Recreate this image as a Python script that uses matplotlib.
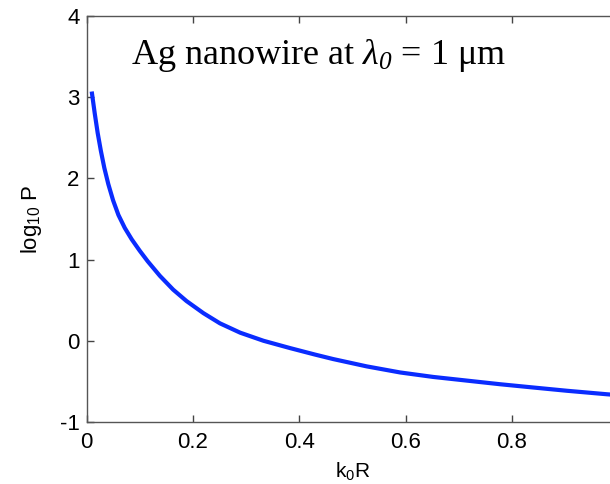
import matplotlib
matplotlib.use("Agg")
import matplotlib.pyplot as plt

# data
k0R = [0.0098, 0.0155, 0.021, 0.027, 0.0335, 0.041, 0.050, 0.060, 0.072, 0.085,
       0.100, 0.115, 0.138, 0.163, 0.188, 0.22, 0.251, 0.289, 0.333, 0.383,
       0.43, 0.464, 0.527, 0.59, 0.652, 0.715, 0.778, 0.84, 0.903, 0.978, 0.995]
log10P = [3.07, 2.80, 2.56, 2.34, 2.13, 1.93, 1.73, 1.55, 1.39, 1.25,
          1.11, 0.98, 0.80, 0.63, 0.49, 0.34, 0.215, 0.10, 0.0, -0.09,
          -0.17, -0.225, -0.315, -0.39, -0.445, -0.49, -0.535, -0.575, -0.615, -0.658, -0.667]
xticks = [0, 0.2, 0.4, 0.6, 0.8]
xticklabels = ['0', '0.2', '0.4', '0.6', '0.8']
yticks = [-1, 0, 1, 2, 3, 4]
yticklabels = ['-1', '0', '1', '2', '3', '4']

plt.rcParams['font.family'] = ['Liberation Sans', 'DejaVu Sans']
plt.rcParams['mathtext.fontset'] = 'custom'
plt.rcParams['mathtext.rm'] = 'Liberation Serif'
plt.rcParams['mathtext.it'] = 'Liberation Serif:italic'
plt.rcParams['mathtext.cal'] = 'Liberation Serif:italic'
plt.rcParams['mathtext.sf'] = 'Liberation Sans'

fig = plt.figure(figsize=(6.1, 4.84), dpi=100)
ax = fig.add_axes([86.5/610, 62/484, 531.7/610, 406/484])

ax.plot(k0R, log10P, color='#0a2cff', lw=3.0, solid_capstyle='butt',
        solid_joinstyle='round')

ax.set_xlim(0, 1)
ax.set_ylim(-1, 4)
ax.set_xticks(xticks)
ax.set_xticklabels(xticklabels)
ax.set_yticks(yticks)
ax.set_yticklabels(yticklabels)

ax.tick_params(direction='in', length=5, width=1, color='#444444',
               labelsize=16, top=True, right=True, labelcolor='black')
ax.tick_params(axis='x', pad=7)
ax.tick_params(axis='y', pad=5)
for s in ax.spines.values():
    s.set_color('#555555')
    s.set_linewidth(1.0)

ax.set_xlabel(r'k$_{\mathsf{0}}$R', fontsize=15, labelpad=5)
ax.set_ylabel(r'log$_{\mathsf{10}}$ P', fontsize=16, labelpad=11)

ax.text(0.437, 0.882, r'Ag nanowire at $\lambda_{\mathcal{0}}$ = 1 μm',
        transform=ax.transAxes, ha='center', va='baseline',
        fontsize=26, family='Liberation Serif')

fig.savefig('out.png', dpi=100)
